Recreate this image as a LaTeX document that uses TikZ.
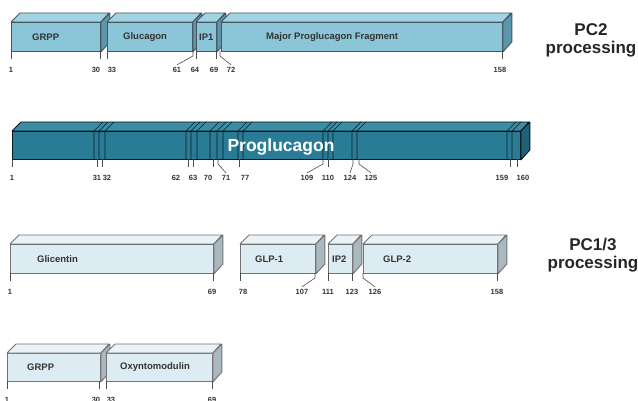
\documentclass[tikz,border=0pt]{standalone}
\usepackage{fontspec}
\setmainfont{Liberation Sans}
\usepackage{tikz}

\definecolor{cTwoFront}{RGB}{138,198,216}
\definecolor{cTwoTop}{RGB}{160,212,228}
\definecolor{cTwoSide}{RGB}{92,150,170}
\definecolor{cBarFront}{RGB}{42,124,150}
\definecolor{cBarTop}{RGB}{60,140,164}
\definecolor{cBarSide}{RGB}{30,98,120}
\definecolor{cPaleFront}{RGB}{221,236,243}
\definecolor{cPaleTop}{RGB}{233,243,248}
\definecolor{cPaleSide}{RGB}{170,185,191}
\definecolor{cEdge}{RGB}{72,86,96}

% one peptide segment: name, x1, x2, ytop, ybottom, style, text, text offset
\newcommand{\seg}[8]{%
  \node[#6, anchor=north west, minimum width={(#3-#2)*1pt}, minimum height={(#5-#4)*1pt}] (#1) at (#2,#4) {};
  \filldraw[#6top] (#1.north west) -- ++(9,-9) -- ++({#3-#2},0) -- (#1.north east) -- cycle;
  \filldraw[#6side] (#1.north east) -- ++(9,-9) -- ++(0,{#5-#4}) -- (#1.south east) -- cycle;
  \node[boxtext, anchor=west] (#1txt) at ([xshift=#8pt]#1.west) {#7};
}
% residue tick: name, tick x, box bottom, label x, text
\newcommand{\tk}[5]{%
  \coordinate (#1t) at (#2,#3);
  \coordinate (#1e) at (#2,#3+8);
  \node[num] (#1) at (#4,#3+19) {#5};
  \draw[tick] (#1t) -- (#1e);
}
% bent residue tick
\newcommand{\tkb}[5]{%
  \coordinate (#1t) at (#2,#3);
  \node[num] (#1) at (#4,#3+19) {#5};
  \draw[tick] (#1t) -- ++(0,5) -- (#1.north);
}

\begin{document}
\begin{tikzpicture}[x=1pt, y=-1pt,
    pctwo/.style={fill=cTwoFront, draw=cEdge, line width=0.9pt, inner sep=0pt},
    pctwotop/.style={fill=cTwoTop, draw=cEdge, line width=0.9pt, line join=round},
    pctwoside/.style={fill=cTwoSide, draw=cEdge, line width=0.9pt, line join=round},
    bar/.style={fill=cBarFront, draw=black!75!cBarSide, line width=0.9pt, inner sep=0pt},
    bartop/.style={fill=cBarTop, draw=black!75!cBarSide, line width=0.9pt, line join=round},
    barside/.style={fill=cBarSide, draw=black!75!cBarSide, line width=0.9pt, line join=round},
    pale/.style={fill=cPaleFront, draw=black!55, line width=0.9pt, inner sep=0pt},
    paletop/.style={fill=cPaleTop, draw=black!55, line width=0.9pt, line join=round},
    paleside/.style={fill=cPaleSide, draw=black!55, line width=0.9pt, line join=round},
    boxtext/.style={font=\fontsize{9.5}{10}\selectfont\bfseries, text=black!80, inner sep=0pt},
    num/.style={font=\fontsize{7.5}{8}\selectfont\bfseries, text=black!80, inner sep=1pt, outer sep=1.5pt},
    tick/.style={draw=black!70, line width=0.6pt},
    divider/.style={draw=black!70!cBarSide, line width=0.6pt},
    title/.style={font=\fontsize{17}{17}\selectfont\bfseries, text=black!85, inner sep=1pt}]
    \useasboundingbox (0,0) rectangle (638,401);

    % PC2 processing
    \seg{grppA}{11}{100}{22}{51}{pctwo}{GRPP}{21}
    \seg{gluc}{107}{192}{22}{51}{pctwo}{Glucagon}{16}
    \seg{ipone}{196}{216}{22}{51}{pctwo}{IP1}{3}
    \seg{mpgf}{221}{502}{22}{51}{pctwo}{Major Proglucagon Fragment}{45}

    \tk{a1}{11}{51}{11}{1}
    \tk{a30}{100}{51}{96}{30}
    \tk{a33}{107}{51}{112}{33}
    \tkb{a61}{193}{51}{177}{61}
    \tk{a64}{196}{51}{195}{64}
    \tk{a69}{216}{51}{214}{69}
    \tkb{a72}{220}{51}{231}{72}
    \tk{a158}{502}{51}{500}{158}

    \node[title, anchor=base] (pc2) at (591,36) {PC2};
    \node[title, anchor=base] (pc2p) at (591,54) {processing};

    % proglucagon
    \seg{pg}{12}{520}{131}{159}{bar}{}{0}
    \foreach \x in {94,99,105,186,191,197,210,217,223,238,243,323,328,333,352,357,507,512}
      \draw[divider] (\x,159) -- (\x,131) -- ++(9,-9);
    \node[font=\fontsize{17.5}{18}\selectfont\bfseries, text=white, anchor=base] (pgtxt) at (281,152) {Proglucagon};

    \tk{b1}{12}{159}{12}{1}
    \tk{b31}{97}{159}{97}{31}
    \tk{b32}{102}{159}{107}{32}
    \tk{b62}{188}{159}{176}{62}
    \tk{b63}{193}{159}{193}{63}
    \tk{b70}{213}{159}{208}{70}
    \tkb{b71}{218}{159}{226}{71}
    \tk{b77}{239}{159}{245}{77}
    \tkb{b109}{323}{159}{307}{109}
    \tk{b110}{328}{159}{328}{110}
    \tkb{b124}{353}{159}{350}{124}
    \tkb{b125}{359}{159}{371}{125}
    \tk{b159}{510}{159}{502}{159}
    \tk{b160}{517}{159}{523}{160}

    % PC1/3 processing
    \seg{glic}{10}{213}{244}{273}{pale}{Glicentin}{27}
    \seg{glpone}{240}{315}{244}{273}{pale}{GLP-1}{15}
    \seg{iptwo}{328}{352}{244}{273}{pale}{IP2}{4}
    \seg{glptwo}{363}{497}{244}{273}{pale}{GLP-2}{20}

    \tk{c1}{10}{273}{10}{1}
    \tk{c69}{213}{273}{212}{69}
    \tk{c78}{240}{273}{243}{78}
    \tkb{c107}{315}{273}{302}{107}
    \tk{c111}{328}{273}{328}{111}
    \tk{c123}{352}{273}{352}{123}
    \tkb{c126}{363}{273}{375}{126}
    \tk{c158}{497}{273}{497}{158}

    \node[title, anchor=base] (pc13) at (593,251) {PC1/3};
    \node[title, anchor=base] (pc13p) at (593,269) {processing};

    \seg{grppB}{7}{100}{353}{381}{pale}{GRPP}{20}
    \seg{oxm}{106}{212}{353}{381}{pale}{Oxyntomodulin}{14}

    \tk{d1}{7}{381}{7}{1}
    \tk{d30}{99}{381}{96}{30}
    \tk{d33}{106}{381}{111}{33}
    \tk{d69}{212}{381}{212}{69}
\end{tikzpicture}
\end{document}
